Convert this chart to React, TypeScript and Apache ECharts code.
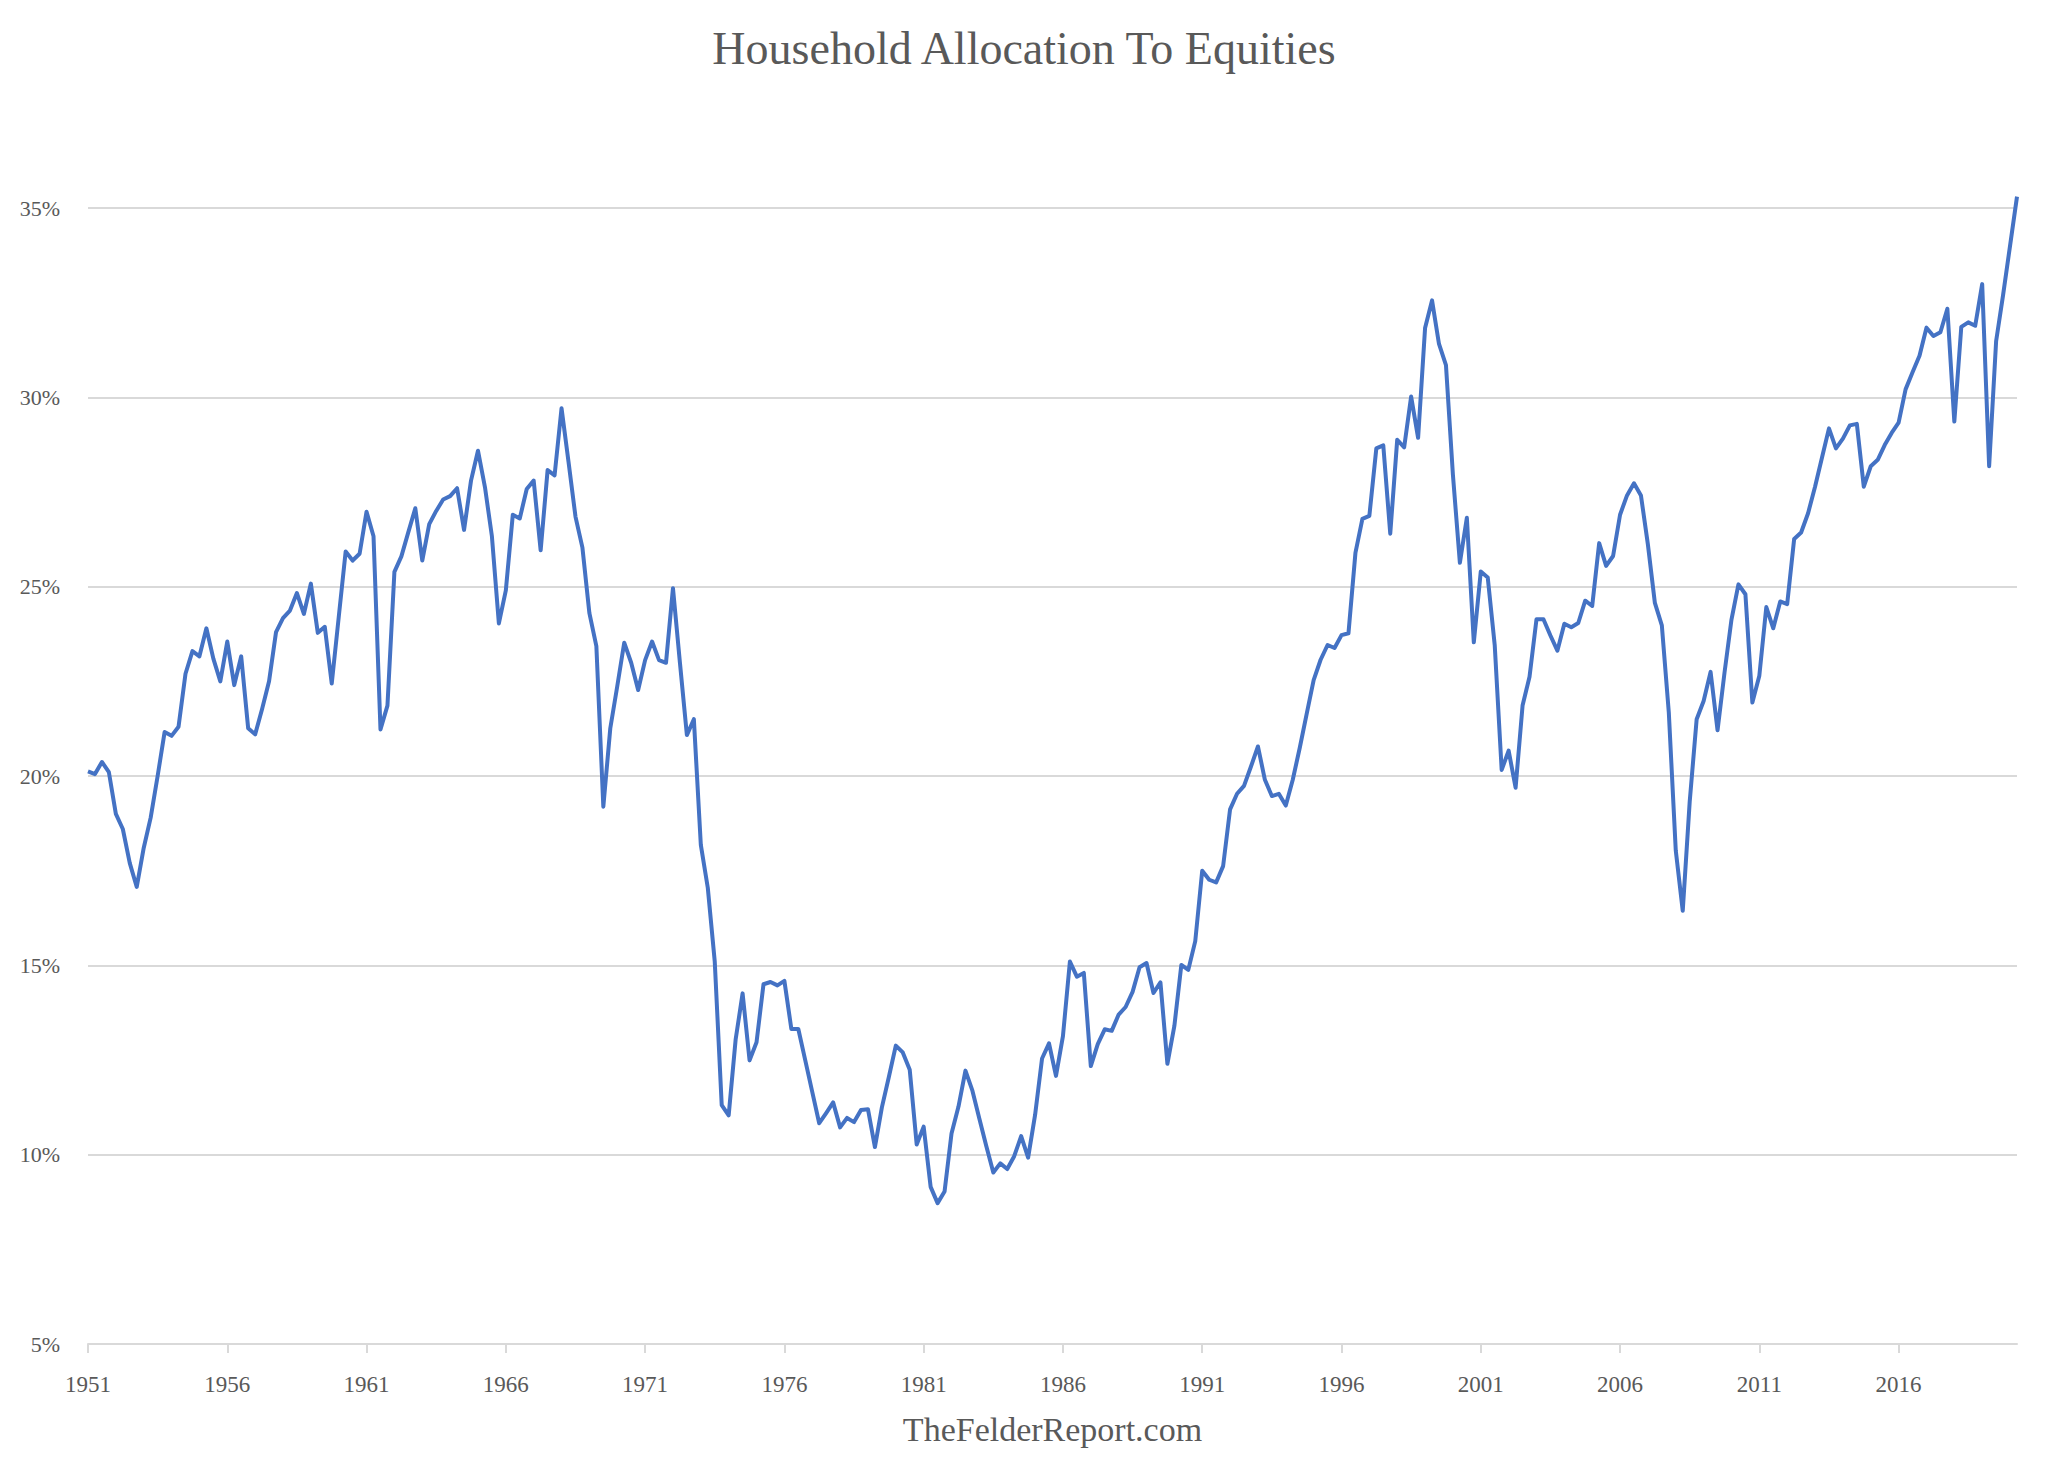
import React, { useEffect, useRef } from "react";
import * as echarts from "echarts";

// Quarterly series starting 1951 Q4
const startYear = 1951;
const startQuarter = 4;

const equityShare: number[] = [
  20.12, 20.05, 20.37, 20.1, 19.0, 18.6, 17.7, 17.07, 18.1, 18.9,
  20.0, 21.16, 21.06, 21.3, 22.7, 23.3, 23.16, 23.9, 23.1, 22.5,
  23.55, 22.4, 23.16, 21.26, 21.1, 21.77, 22.5, 23.8, 24.17, 24.37,
  24.83, 24.28, 25.08, 23.78, 23.94, 22.44, 24.19, 25.93, 25.69, 25.87,
  26.98, 26.33, 21.23, 21.86, 25.39, 25.8, 26.44, 27.07, 25.69, 26.65,
  27.0, 27.3, 27.39, 27.6, 26.5, 27.8, 28.59, 27.63, 26.33, 24.03,
  24.9, 26.9, 26.8, 27.58, 27.8, 25.96, 28.08, 27.94, 29.71, 28.3,
  26.85, 26.03, 24.3, 23.43, 19.19, 21.26, 22.37, 23.52, 22.99, 22.27,
  23.06, 23.55, 23.06, 22.99, 24.96, 22.99, 21.08, 21.5, 18.18, 17.05,
  15.1, 11.31, 11.04, 13.04, 14.26, 12.49, 12.97, 14.5, 14.56, 14.47,
  14.59, 13.32, 13.32, 12.49, 11.66, 10.83, 11.1, 11.38, 10.72, 10.97,
  10.86, 11.18, 11.2, 10.2, 11.25, 12.05, 12.88, 12.7, 12.24, 10.27,
  10.74, 9.15, 8.72, 9.03, 10.56, 11.27, 12.22, 11.69, 10.95, 10.22,
  9.53, 9.77, 9.62, 9.96, 10.49, 9.92, 11.05, 12.54, 12.94, 12.08,
  13.13, 15.1, 14.7, 14.8, 12.34, 12.92, 13.31, 13.27, 13.7, 13.9,
  14.3, 14.95, 15.06, 14.27, 14.55, 12.4, 13.4, 15.01, 14.88, 15.64,
  17.5, 17.26, 17.19, 17.62, 19.12, 19.53, 19.74, 20.25, 20.78, 19.9,
  19.47, 19.53, 19.22, 19.9, 20.74, 21.64, 22.53, 23.07, 23.46, 23.38,
  23.72, 23.77, 25.89, 26.79, 26.87, 28.65, 28.73, 26.4, 28.88, 28.68,
  30.02, 28.93, 31.83, 32.56, 31.41, 30.85, 27.95, 25.63, 26.82, 23.53,
  25.4, 25.24, 23.46, 20.16, 20.67, 19.69, 21.86, 22.62, 24.14, 24.14,
  23.71, 23.31, 24.02, 23.93, 24.04, 24.63, 24.49, 26.15, 25.55, 25.81,
  26.9, 27.41, 27.73, 27.41, 26.11, 24.57, 23.98, 21.68, 18.03, 16.44,
  19.32, 21.5, 21.98, 22.75, 21.21, 22.73, 24.13, 25.06, 24.8, 21.94,
  22.65, 24.46, 23.9, 24.61, 24.54, 26.26, 26.43, 26.94, 27.64, 28.41,
  29.18, 28.65, 28.91, 29.26, 29.3, 27.64, 28.18, 28.35, 28.74, 29.06,
  29.33, 30.21, 30.66, 31.1, 31.84, 31.62, 31.72, 32.34, 29.36, 31.86,
  31.98, 31.89, 32.99, 28.18, 31.48, 32.7, 34.0, 35.3,
];

const quarters: string[] = equityShare.map((_, i) => {
  const q = startQuarter - 1 + i;
  return `${startYear + Math.floor(q / 4)} Q${(q % 4) + 1}`;
});

const yTicks = { min: 5, max: 35, interval: 5 };
const labelEvery = 20;

const TITLE = "Household Allocation To Equities";
const SOURCE = "TheFelderReport.com";

export default function App() {
  const ref = useRef<HTMLDivElement>(null);

  useEffect(() => {
    if (!ref.current) return;
    const chart = echarts.init(ref.current, undefined, { renderer: "svg" });
    const serif = "'Liberation Serif', 'DejaVu Serif', serif";
    const gray = "#595959";
    chart.setOption({
      animation: false,
      backgroundColor: "#ffffff",
      title: {
        text: TITLE,
        left: "center",
        top: 20,
        textStyle: { fontFamily: serif, fontSize: 46, fontWeight: "normal", color: gray },
      },
      grid: { left: 88, right: 31, top: 208, bottom: 139, containLabel: false },
      xAxis: {
        type: "category",
        data: quarters,
        boundaryGap: false,
        name: SOURCE,
        nameLocation: "middle",
        nameGap: 68,
        nameTextStyle: { fontFamily: serif, fontSize: 34, color: gray },
        axisLine: { show: true, lineStyle: { color: "#d9d9d9", width: 2 } },
        axisTick: { show: true, interval: labelEvery - 1, length: 9, lineStyle: { color: "#d9d9d9", width: 2 } },
        axisLabel: {
          interval: labelEvery - 1,
          margin: 29,
          fontFamily: serif,
          fontSize: 23,
          color: gray,
          formatter: (v: string) => v.slice(0, 4),
        },
        splitLine: { show: false },
      },
      yAxis: {
        type: "value",
        min: yTicks.min,
        max: yTicks.max,
        interval: yTicks.interval,
        axisLine: { show: false },
        axisTick: { show: false },
        axisLabel: { formatter: "{value}%", fontFamily: serif, fontSize: 22, color: gray, margin: 28 },
        splitLine: { show: true, lineStyle: { color: "#d9d9d9", width: 2 } },
      },
      series: [
        {
          type: "line",
          data: equityShare,
          showSymbol: false,
          symbol: "none",
          clip: false,
          lineStyle: { color: "#4472c4", width: 4, join: "round" },
          itemStyle: { color: "#4472c4" },
        },
      ],
    });
    return () => chart.dispose();
  }, []);

  return (
    <div
      ref={ref}
      style={{ position: "fixed", left: 0, top: 0, width: 2048, height: 1483, background: "#fff" }}
    />
  );
}
